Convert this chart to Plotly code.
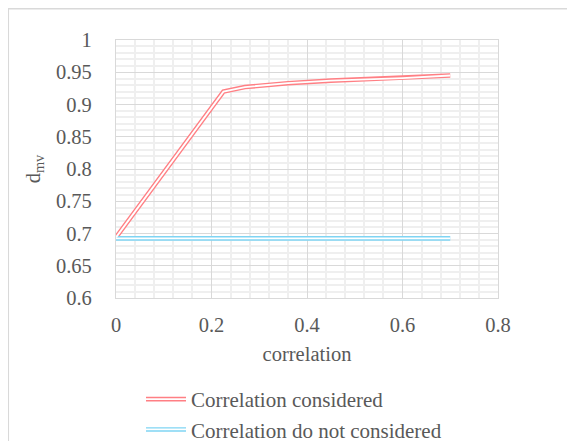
import plotly.graph_objects as go

# Data
corr_considered_x = [0, 0.225, 0.27, 0.36, 0.45, 0.6, 0.7]
corr_considered_y = [0.694, 0.92, 0.927, 0.933, 0.937, 0.941, 0.945]
corr_not_x = [0, 0.7]
corr_not_y = [0.6925, 0.6925]
names = ["Correlation considered", "Correlation do not considered"]

RED = "#FF7F84"
CYAN = "#7FD4F3"
TXT = "#595959"
FONT = "Liberation Serif, Times New Roman, serif"
FS = 20.5
LFS = 21

fig = go.Figure()
series = [(corr_considered_x, corr_considered_y, RED, names[0]),
          (corr_not_x, corr_not_y, CYAN, names[1])]
for i, (x, y, c, n) in enumerate(series):
    fig.add_trace(go.Scatter(x=x, y=y, mode="lines", name=n,
                             line=dict(color=c, width=4.6),
                             legend="legend", legendgroup=f"g{i}"))
for i, (x, y, c, n) in enumerate(series):
    fig.add_trace(go.Scatter(x=x, y=y, mode="lines", name=n,
                             line=dict(color="white", width=1.8),
                             legend="legend2", legendgroup=f"w{i}"))

# page has an 8px body margin
OFF = 8
W, H = 567, 441
L, T = 116 - OFF, 40 - OFF
R = W - (498 - OFF)
B = H - (298 - OFF)
pw, ph = W - L - R, H - T - B

def px2paper(px, py):
    fx, fy = px - OFF, py - OFF
    return (fx - L) / pw, (H - B - fy) / ph

bx0, by1 = px2paper(8.3, 8.8)
bx1, by0 = px2paper(640, 520)

legx, legy = px2paper(141, 379)
legend_common = dict(x=legx, y=legy, xanchor="left", yanchor="top",
                     bgcolor="rgba(0,0,0,0)", tracegroupgap=0,
                     itemwidth=40)

fig.update_layout(
    width=W, height=H,
    margin=dict(l=L, r=R, t=T, b=B, autoexpand=False),
    paper_bgcolor="white", plot_bgcolor="white",
    font=dict(family=FONT, size=FS, color=TXT),
    showlegend=True,
    legend=dict(**legend_common, font=dict(family=FONT, size=LFS, color=TXT)),
    legend2=dict(**legend_common, font=dict(family=FONT, size=LFS, color="rgba(0,0,0,0)")),
    xaxis=dict(range=[0, 0.8], dtick=0.2, tickformat="~g",
               showgrid=True, gridcolor="#d9d9d9", gridwidth=1.3,
               minor=dict(dtick=0.04, showgrid=True, gridcolor="#efefef", gridwidth=1.6),
               showline=True, mirror=True, linecolor="#d9d9d9", linewidth=1.3,
               zeroline=False, ticks="", ticklabelstandoff=8,
               title=dict(text="correlation", standoff=11,
                          font=dict(family=FONT, size=FS, color=TXT))),
    yaxis=dict(range=[0.6, 1.0], dtick=0.05, tickformat="~g",
               showgrid=True, gridcolor="#d9d9d9", gridwidth=1.3,
               minor=dict(dtick=0.01, showgrid=True, gridcolor="#efefef", gridwidth=1.6),
               showline=True, mirror=True, linecolor="#d9d9d9", linewidth=1.3,
               zeroline=False, ticks="", ticklabelstandoff=19,
               title=dict(text="d<sub>mv</sub>", standoff=9,
                          font=dict(family=FONT, size=FS, color=TXT))),
    shapes=[dict(type="rect", xref="paper", yref="paper",
                 x0=bx0, x1=bx1, y0=by0, y1=by1,
                 line=dict(color="#d9d9d9", width=1.5), layer="below")],
)

fig.write_html("out.html")
